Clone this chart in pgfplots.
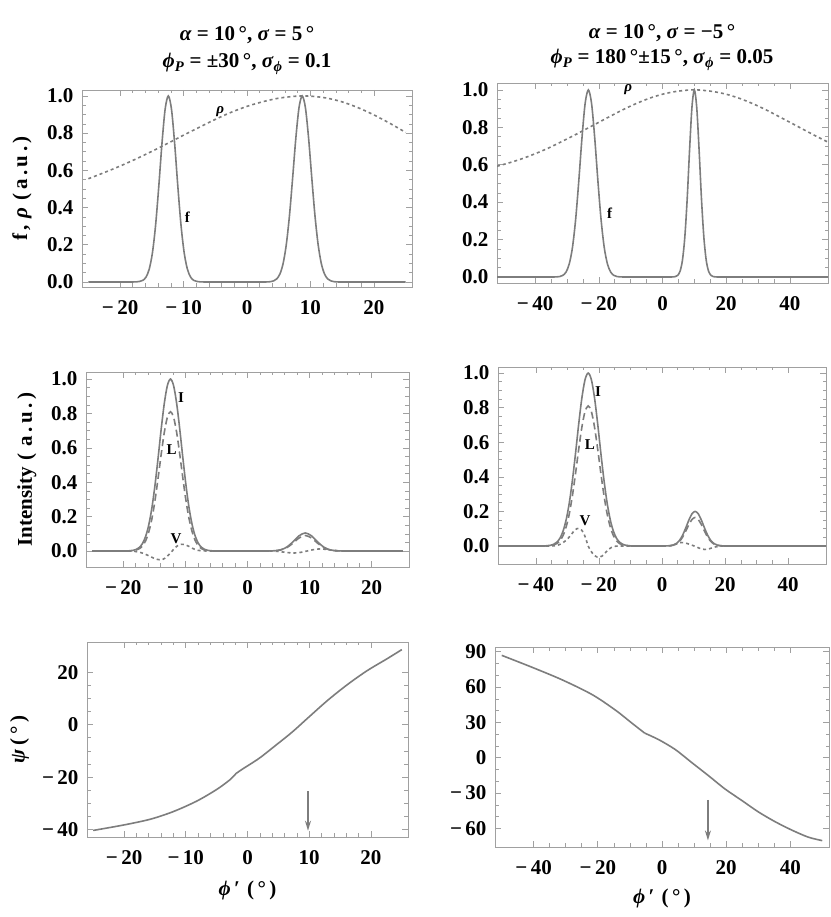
\documentclass[border=0pt]{standalone}
\usepackage{fontspec}
\setmainfont{Liberation Serif}
\usepackage{pgfplots}
\pgfplotsset{compat=1.18}
\usetikzlibrary{arrows.meta}
\definecolor{cl}{RGB}{125,125,125}
\definecolor{fr}{RGB}{160,160,160}
\newcommand{\bi}[1]{\textbf{\textit{#1}}}
\newcommand{\fs}{\bfseries\fontsize{21}{24}\selectfont}
\newcommand{\fl}{\bfseries\fontsize{15}{18}\selectfont}
\newcommand{\g}{\hspace{3.5pt}}
\pgfplotsset{
 mm/.style={
  scale only axis, anchor=south west, clip=true,
  axis line style={fr, line width=0.8pt},
  every tick/.style={fr, line width=0.6pt},
  major tick length=6pt, minor tick length=3.5pt,
  tick align=inside,
  xticklabel style={font=\fs, yshift=-10pt},
  yticklabel style={font=\fs, xshift=-5pt},
  minor y tick num=3,
 },
 sol/.style={cl, line width=1.6pt, smooth},
 dot/.style={cl, line width=1.6pt, smooth, dash pattern=on 3pt off 3pt},
 dsh/.style={cl, line width=1.6pt, smooth, dash pattern=on 7pt off 4pt},
 arr/.style={cl, line width=1.4pt, -{Stealth[length=10pt,width=6pt]}},
}
\begin{document}
\begin{tikzpicture}
\useasboundingbox (0,0) rectangle (830pt,917pt);
% titles
\node[anchor=base, font=\fs] at (247pt,876pt) {\bi{α} = 10\,°, \bi{σ} = 5\,°};
\node[anchor=base, font=\fs] at (247pt,849pt) {\bi{ϕ}\textsubscript{\bi{P}} = ±30\,°, \bi{σ}\textsubscript{\bi{ϕ}} = 0.1};
\node[anchor=base, font=\fs] at (662pt,878pt) {\bi{α} = 10\,°, \bi{σ} = −5\,°};
\node[anchor=base, font=\fs] at (662pt,853pt) {\bi{ϕ}\textsubscript{\bi{P}} = 180\,°±15\,°, \bi{σ}\textsubscript{\bi{ϕ}} = 0.05};

% ---------- TL ----------
\begin{axis}[mm, at={(82pt,630pt)}, width=330pt, height=197pt,
  xmin=-26, xmax=26, ymin=-0.027, ymax=1.032,
  xtick={-20,-10,0,10,20}, xticklabels={−\,20,−\,10,0,10,20}, minor x tick num=4,
  ytick={0,0.2,0.4,0.6,0.8,1}, yticklabels={0.0,0.2,0.4,0.6,0.8,1.0},
  ylabel={f\g,\g\g\bi{ρ}\g\g(\g a\g.\g u\g.\g)},
  every axis y label/.style={at={(axis description cs:-0.182,0.5)}, rotate=90, anchor=center, font=\fs}]
\addplot[sol] coordinates {(-25,0) (-23,0) (-21,0) (-19,0) (-18,0) (-17.4,0.0006) (-16.9,0.003) (-16.4,0.0088) (-15.9,0.0267) (-15.4,0.0698) (-14.9,0.157) (-14.4,0.306) (-13.9,0.514) (-13.4,0.744) (-12.9,0.929) (-12.4,1) (-11.9,0.929) (-11.4,0.744) (-10.9,0.514) (-10.4,0.306) (-9.9,0.157) (-9.4,0.0698) (-8.9,0.0267) (-8.4,0.0088) (-7.9,0.003) (-7.4,0.0006) (-6.8,0) (-6,0) (-4,0) (-2,0) (0,0) (2,0) (3,0) (3.7,0.0017) (4.2,0.006) (4.7,0.0169) (5.2,0.0439) (5.7,0.1007) (6.2,0.203) (6.7,0.360) (7.2,0.563) (7.7,0.775) (8.2,0.938) (8.7,1) (9.2,0.938) (9.7,0.775) (10.2,0.563) (10.7,0.360) (11.2,0.203) (11.7,0.1007) (12.2,0.0439) (12.7,0.0169) (13.2,0.006) (13.7,0.0017) (14.4,0) (15,0) (17,0) (19,0) (21,0) (23,0) (25,0)};
\addplot[dot] coordinates {(-25,0.555) (-22.5,0.588) (-20,0.623) (-17.5,0.661) (-15,0.702) (-12.5,0.745) (-10,0.789) (-7.5,0.832) (-5,0.874) (-2.5,0.912) (0,0.944) (2.5,0.969) (5,0.988) (7.5,0.998) (9,1) (10,0.999) (12.5,0.989) (15,0.968) (17.5,0.937) (20,0.898) (22.5,0.853) (25,0.804)};
\node[font=\fl] at (axis cs:-4.2,0.914) {\bi{ρ}};
\node[font=\fl] at (axis cs:-9.4,0.349) {f};
\end{axis}

% ---------- TR ----------
\begin{axis}[mm, at={(497pt,634pt)}, width=331pt, height=200pt,
  xmin=-52, xmax=52, ymin=-0.032, ymax=1.037,
  xtick={-40,-20,0,20,40}, xticklabels={−\,40,−\,20,0,20,40}, minor x tick num=3,
  ytick={0,0.2,0.4,0.6,0.8,1}, yticklabels={0.0,0.2,0.4,0.6,0.8,1.0}]
\addplot[sol] coordinates {(-52,0) (-48,0) (-44,0) (-40,0) (-37.5,0) (-36,0) (-35,0) (-34.3,0.0001) (-33.3,0.0006) (-32.3,0.0025) (-31.3,0.0088) (-30.3,0.0267) (-29.3,0.0698) (-28.3,0.157) (-27.3,0.306) (-26.3,0.514) (-25.3,0.744) (-24.3,0.929) (-23.3,1) (-22.3,0.929) (-21.3,0.744) (-20.3,0.514) (-19.3,0.306) (-18.3,0.157) (-17.3,0.0698) (-16.3,0.0267) (-15.3,0.0088) (-14.3,0.0025) (-13.3,0.0006) (-12.3,0.0001) (-11,0) (-8,0) (-5,0) (-2,0) (0,0) (1.5,0) (2.5,0) (3.25,0.0004) (4,0.0020) (4.75,0.0085) (5.5,0.0301) (6.25,0.0878) (7,0.211) (7.75,0.416) (8.5,0.678) (9.25,0.907) (10,1) (10.75,0.907) (11.5,0.678) (12.25,0.416) (13,0.211) (13.75,0.0878) (14.5,0.0301) (15.25,0.0085) (16,0.0020) (16.75,0.0004) (17.5,0) (20,0) (24,0) (28,0) (32,0) (36,0) (40,0) (44,0) (48,0) (52,0)};
\addplot[dot] coordinates {(-52,0.592) (-48,0.611) (-44,0.633) (-40,0.659) (-36,0.688) (-32,0.721) (-28,0.755) (-24,0.791) (-20,0.827) (-16,0.863) (-12,0.898) (-8,0.929) (-4,0.956) (0,0.977) (4,0.991) (8,0.999) (10,1) (12,0.999) (16,0.991) (20,0.977) (24,0.956) (28,0.929) (32,0.898) (36,0.863) (40,0.827) (44,0.791) (48,0.755) (52,0.721)};
\node[font=\fl] at (axis cs:-10.8,1.0) {\bi{ρ}};
\node[font=\fl] at (axis cs:-16.6,0.34) {f};
\end{axis}

% ---------- ML ----------
\begin{axis}[mm, at={(86pt,350pt)}, width=323pt, height=195pt,
  xmin=-26, xmax=26, ymin=-0.093, ymax=1.041,
  xtick={-20,-10,0,10,20}, xticklabels={−\,20,−\,10,0,10,20}, minor x tick num=4,
  ytick={0,0.2,0.4,0.6,0.8,1}, yticklabels={0.0,0.2,0.4,0.6,0.8,1.0},
  ylabel={Intensity\g\g(\g\g a\g.\g u\g.\g)},
  every axis y label/.style={at={(axis description cs:-0.183,0.5)}, rotate=90, anchor=center, font=\fs}]
\addplot[sol] coordinates {(-25,0) (-23,0) (-21,0) (-20,0) (-19.4,0.0005) (-18.9,0.0015) (-18.4,0.0039) (-17.9,0.0094) (-17.4,0.0211) (-16.9,0.0439) (-16.4,0.0847) (-15.9,0.151) (-15.4,0.249) (-14.9,0.381) (-14.4,0.539) (-13.9,0.707) (-13.4,0.857) (-12.9,0.962) (-12.4,1) (-11.9,0.962) (-11.4,0.857) (-10.9,0.707) (-10.4,0.539) (-9.9,0.381) (-9.4,0.249) (-8.9,0.151) (-8.4,0.0847) (-7.9,0.0439) (-7.4,0.0211) (-6.9,0.0094) (-6.4,0.0039) (-5.9,0.0015) (-5.4,0.0005) (-4.5,0) (-3,0) (-1.5,0) (0,0) (1.5,0) (2.5,0) (3.3,0.0002) (4.3,0.0014) (5.3,0.0066) (6.3,0.0221) (7.3,0.0526) (8.3,0.0883) (9.3,0.105) (10.3,0.0883) (11.3,0.0526) (12.3,0.0221) (13.3,0.0066) (14.3,0.0014) (15.3,0.0002) (16.5,0) (18,0) (20,0) (22,0) (25,0)};
\addplot[dsh] coordinates {(-25,0) (-23,0) (-21,0) (-20,0) (-19.4,0) (-18.9,0.0008) (-18.4,0.0023) (-17.9,0.0058) (-17.4,0.0137) (-16.9,0.0297) (-16.4,0.0595) (-15.9,0.110) (-15.4,0.186) (-14.9,0.292) (-14.4,0.422) (-13.9,0.561) (-13.4,0.688) (-12.9,0.778) (-12.4,0.81) (-11.9,0.778) (-11.4,0.688) (-10.9,0.561) (-10.4,0.422) (-9.9,0.292) (-9.4,0.186) (-8.9,0.110) (-8.4,0.0595) (-7.9,0.0297) (-7.4,0.0137) (-6.9,0.0058) (-6.4,0.0023) (-5.9,0.0008) (-5.4,0) (-4.5,0) (-3,0) (-1.5,0) (0,0) (1.5,0) (2.5,0) (3.3,0.0002) (4.3,0.0012) (5.3,0.0057) (6.3,0.019) (7.3,0.045) (8.3,0.0757) (9.3,0.09) (10.3,0.0757) (11.3,0.045) (12.3,0.019) (13.3,0.0057) (14.3,0.0012) (15.3,0.0002) (16.5,0) (18,0) (20,0) (22,0) (25,0)};
\addplot[dot] coordinates {(-25,0) (-22,0) (-20,0) (-19,0) (-18,-0.003) (-17,-0.011) (-16,-0.026) (-15,-0.043) (-14,-0.052) (-13.2,-0.040) (-12.5,-0.015) (-12,0.005) (-11.5,0.024) (-11,0.036) (-10.6,0.039) (-10,0.036) (-9.5,0.028) (-9,0.018) (-8.5,0.010) (-8,0.004) (-7,0.0005) (-6,0) (-4,0) (-2,0) (0,0) (2,0) (4,0) (5,-0.003) (6,-0.007) (7,-0.011) (8,-0.011) (9,-0.005) (9.6,0) (10.5,0.007) (11.5,0.012) (12.5,0.010) (13.5,0.005) (14.5,0.002) (16,0) (18,0) (21,0) (25,0)};
\node[font=\fl] at (axis cs:-10.7,0.894) {I};
\node[font=\fl] at (axis cs:-12.2,0.587) {L};
\node[font=\fl] at (axis cs:-11.5,0.074) {V};
\end{axis}

% ---------- MR ----------
\begin{axis}[mm, at={(498pt,353pt)}, width=328pt, height=197pt,
  xmin=-52, xmax=52, ymin=-0.104, ymax=1.035,
  xtick={-40,-20,0,20,40}, xticklabels={−\,40,−\,20,0,20,40}, minor x tick num=3,
  ytick={0,0.2,0.4,0.6,0.8,1}, yticklabels={0.0,0.2,0.4,0.6,0.8,1.0}]
\addplot[sol] coordinates {(-52,0) (-48,0) (-44,0) (-41,0) (-39,0) (-37.4,0.0005) (-36.4,0.0015) (-35.4,0.0039) (-34.4,0.0094) (-33.4,0.0211) (-32.4,0.0439) (-31.4,0.0847) (-30.4,0.151) (-29.4,0.249) (-28.4,0.381) (-27.4,0.539) (-26.4,0.707) (-25.4,0.857) (-24.4,0.962) (-23.4,1) (-22.4,0.962) (-21.4,0.857) (-20.4,0.707) (-19.4,0.539) (-18.4,0.381) (-17.4,0.249) (-16.4,0.151) (-15.4,0.0847) (-14.4,0.0439) (-13.4,0.0211) (-12.4,0.0094) (-11.4,0.0039) (-10.4,0.0015) (-9.4,0.0005) (-8,0) (-5.5,0) (-3,0) (-1,0) (0.5,0.0001) (1.5,0.0005) (2.5,0.0018) (3.5,0.0053) (4.5,0.014) (5.5,0.0315) (6.5,0.0613) (7.5,0.103) (8.5,0.149) (9.5,0.186) (10.5,0.2) (11.5,0.186) (12.5,0.149) (13.5,0.103) (14.5,0.0613) (15.5,0.0315) (16.5,0.014) (17.5,0.0053) (18.5,0.0018) (19.5,0.0005) (20.5,0.0001) (22,0) (25,0) (28,0) (32,0) (36,0) (40,0) (44,0) (48,0) (52,0)};
\addplot[dsh] coordinates {(-52,0) (-48,0) (-44,0) (-41,0) (-39,0) (-37.4,0) (-36.4,0.0008) (-35.4,0.0023) (-34.4,0.0058) (-33.4,0.0137) (-32.4,0.0297) (-31.4,0.0595) (-30.4,0.110) (-29.4,0.186) (-28.4,0.292) (-27.4,0.422) (-26.4,0.561) (-25.4,0.688) (-24.4,0.778) (-23.4,0.81) (-22.4,0.778) (-21.4,0.688) (-20.4,0.561) (-19.4,0.422) (-18.4,0.292) (-17.4,0.186) (-16.4,0.110) (-15.4,0.0595) (-14.4,0.0297) (-13.4,0.0137) (-12.4,0.0058) (-11.4,0.0023) (-10.4,0.0008) (-9.4,0) (-8,0) (-5.5,0) (-3,0) (-1,0) (0.5,0) (1.5,0.0004) (2.5,0.0015) (3.5,0.0044) (4.5,0.0115) (5.5,0.0259) (6.5,0.0505) (7.5,0.0848) (8.5,0.123) (9.5,0.153) (10.5,0.165) (11.5,0.153) (12.5,0.123) (13.5,0.0848) (14.5,0.0505) (15.5,0.0259) (16.5,0.0115) (17.5,0.0044) (18.5,0.0015) (19.5,0.0004) (20.5,0) (22,0) (25,0) (28,0) (32,0) (36,0) (40,0) (44,0) (48,0) (52,0)};
\addplot[dot] coordinates {(-52,0) (-48,0) (-44,0) (-40,0) (-37,0) (-35,0) (-33,0.005) (-31.5,0.018) (-30,0.04) (-29,0.06) (-28,0.085) (-27,0.1) (-26.5,0.102) (-25.8,0.097) (-25,0.08) (-24.2,0.045) (-23.4,0) (-22.5,-0.03) (-21.5,-0.054) (-20.5,-0.064) (-19.9,-0.065) (-19,-0.058) (-18,-0.04) (-17,-0.02) (-16,-0.008) (-15,-0.002) (-14,0) (-11,0) (-8,0) (-5,0) (-2,0) (0.5,0) (2,0) (3.5,0.005) (5,0.015) (6.2,0.02) (7.5,0.017) (9,0.008) (10.2,0) (11.5,-0.01) (12.7,-0.018) (13.6,-0.02) (15,-0.016) (16.5,-0.007) (18,-0.002) (20,0) (24,0) (28,0) (32,0) (36,0) (40,0) (44,0) (48,0) (52,0)};
\node[font=\fl] at (axis cs:-20.3,0.892) {I};
\node[font=\fl] at (axis cs:-22.9,0.584) {L};
\node[font=\fl] at (axis cs:-24.4,0.146) {V};
\end{axis}

% ---------- BL ----------
\begin{axis}[mm, at={(87pt,80pt)}, width=321pt, height=195pt,
  xmin=-26, xmax=26, ymin=-42.8, ymax=31.5,
  xtick={-20,-10,0,10,20}, xticklabels={−\,20,−\,10,0,10,20}, minor x tick num=4,
  ytick={-40,-20,0,20}, yticklabels={−\,40,−\,20,0,20},
  ylabel={\bi{ψ}\g(\g°\g)},
  every axis y label/.style={at={(axis description cs:-0.21,0.5)}, rotate=90, anchor=center, font=\fs},
  xlabel={\bi{ϕ}\,′\g\g(\g°\g)},
  every axis x label/.style={at={(axis description cs:0.5,-0.272)}, anchor=center, font=\fs}]
\addplot[sol] coordinates {(-25,-40.3) (-20,-38.2) (-15.7,-36.0) (-12,-33.1) (-8.2,-29.1) (-5,-24.7) (-2.9,-21.1) (-1.85,-18.6)};
\addplot[sol] coordinates {(-1.85,-18.6) (-0.8,-16.9) (1.9,-12.8) (4.5,-8.0) (7.2,-2.9) (9.8,2.6) (13,9.3) (16.2,15.3) (19.4,20.6) (22.6,25.1) (25,28.6)};
\addplot[arr] coordinates {(9.8,-25.3) (9.8,-40.4)};
\end{axis}

% ---------- BR ----------
\begin{axis}[mm, at={(495pt,70pt)}, width=334pt, height=200pt,
  xmin=-52, xmax=52, ymin=-75.8, ymax=94,
  xtick={-40,-20,0,20,40}, xticklabels={−\,40,−\,20,0,20,40}, minor x tick num=3,
  ytick={-60,-30,0,30,60,90}, yticklabels={−\,60,−\,30,0,30,60,90}, minor y tick num=2,
  xlabel={\bi{ϕ}\,′\g\g(\g°\g)},
  every axis x label/.style={at={(axis description cs:0.5,-0.255)}, anchor=center, font=\fs}]
\addplot[sol] coordinates {(-49.9,86.9) (-40.3,76.6) (-31,66.0) (-21.7,53.5) (-14.5,40.4) (-9.3,29.2) (-5.4,20.9)};
\addplot[sol] coordinates {(-5.4,20.9) (-1,15.3) (4.1,7.0) (9.3,-4.2) (14.5,-15.3) (19.6,-26.5) (24.8,-36.2) (30,-46.0) (35.2,-54.3) (40.3,-61.3) (45.5,-67.4) (49.9,-70.4)};
\addplot[arr] coordinates {(14.3,-35.7) (14.3,-70.2)};
\end{axis}
\end{tikzpicture}
\end{document}
